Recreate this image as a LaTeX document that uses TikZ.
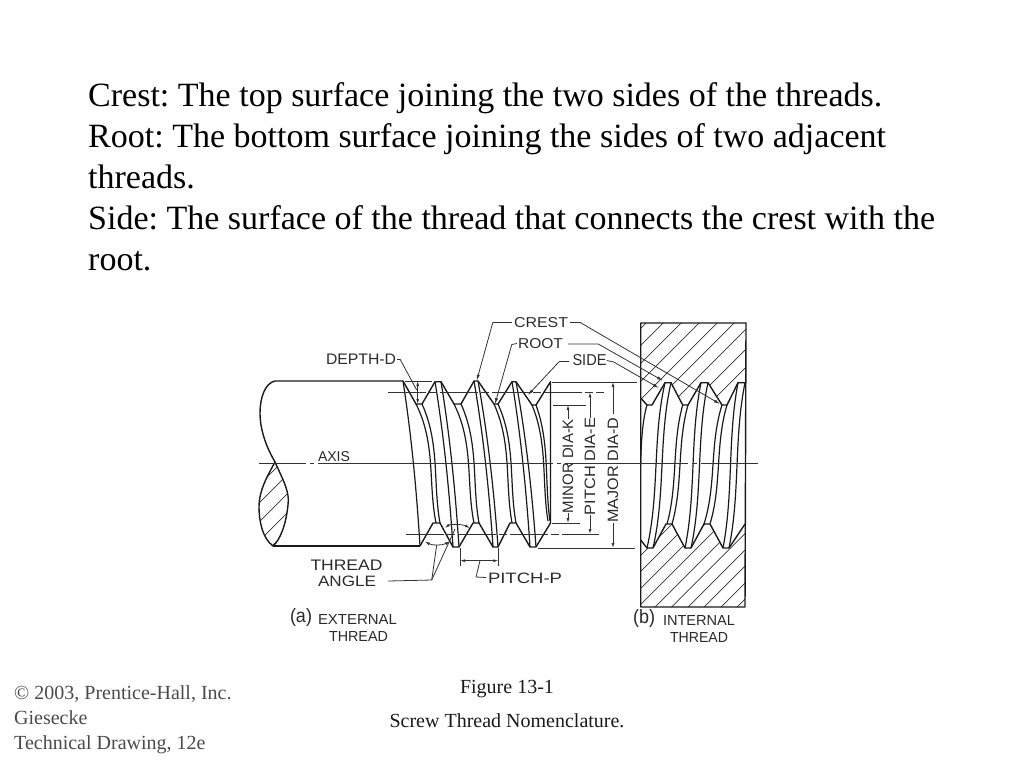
\documentclass[tikz,border=0pt]{standalone}
\usepackage{fontspec}
\usepackage{graphicx}
\setmainfont{Liberation Serif}
\newfontfamily\lblfont{Liberation Sans}
\usetikzlibrary{arrows.meta,calc}
\definecolor{ink}{HTML}{1A1A1A}
\definecolor{inkthin}{HTML}{333333}
\definecolor{lettering}{HTML}{2A2A2A}
\definecolor{greytext}{HTML}{4A4A4A}
\newcommand\lbl[3]{\resizebox{#1pt}{#2pt}{\lblfont #3}}
\newcommand\thrg[6]{\draw[thrline] (#1,#2) .. controls ({#1+#5*(#3-#1)},{#2+(#4-#2)/3}) and ({#1+#6*(#3-#1)},{#4-(#4-#2)/3}) .. (#3,#4);}
\newcommand\crestl[4]{\thrg{#1}{#2}{#3}{#4}{0.5}{0.8}}
\newcommand\rootl[4]{\thrg{#1}{#2}{#3}{#4}{1.0}{0.6}}
\newcommand\intl[4]{\thrg{#1}{#2}{#3}{#4}{0.7}{0.3}}
\frenchspacing
\tikzset{
  x=1pt,y=-1pt,
  bodytext/.style={anchor=base west,inner sep=0pt,font=\fontsize{34}{41}\selectfont,text=black},
  smalltext/.style={anchor=base west,inner sep=0pt,font=\fontsize{20}{24}\selectfont,text=greytext},
  figcap/.style={anchor=base,inner sep=0pt,font=\fontsize{20}{24}\selectfont,text=ink},
  lab/.style={inner sep=0pt,text=lettering},
  outlined/.style={draw=ink,line width=1.4pt,line join=round},
  thrline/.style={draw=ink,line width=1.2pt},
  fineline/.style={draw=inkthin,line width=0.9pt},
  hatchline/.style={draw=inkthin,line width=0.7pt},
  leadline/.style={draw=inkthin,line width=0.8pt,-{Latex[length=6pt,width=3.2pt]}},
  plainline/.style={draw=inkthin,line width=0.8pt},
  twoheads/.style={draw=inkthin,line width=0.8pt,{Latex[length=5pt,width=3pt]}-{Latex[length=5pt,width=3pt]}},
  onehead/.style={draw=inkthin,line width=0.8pt,-{Latex[length=5pt,width=3pt]}}
}
\begin{document}
\begin{tikzpicture}
\useasboundingbox (0,0) rectangle (1024,768);
% body text
\node[bodytext] (l1) at (88,106) {Crest: The top surface joining the two sides of the threads.};
\node[bodytext] (l2) at (88,147) {Root: The bottom surface joining the sides of two adjacent};
\node[bodytext] (l3) at (88,188) {threads.};
\node[bodytext] (l4) at (88,229) {Side: The surface of the thread that connects the crest with the};
\node[bodytext] (l5) at (88,270) {root.};
\node[smalltext] (c1) at (14,699) {© 2003, Prentice-Hall, Inc.};
\node[smalltext] (c2) at (14,724) {Giesecke};
\node[smalltext] (c3) at (14,749) {Technical Drawing, 12e};
\node[figcap] (f1) at (507,693) {Figure 13-1};
\node[figcap] (f2) at (507,727) {Screw Thread Nomenclature.};
% hatching internal
\begin{scope}
\clip (640.7,323) -- (746,323) -- (746,382.7) -- (738,382.7) -- (727,405) -- (722,405) -- (708,382.7) -- (701,382.7) -- (688,405) -- (682.7,405) -- (671,382.7) -- (665,382.7) -- (652,405) -- (647,405) -- (640.7,398) -- cycle;
\foreach \s in {969,986,1004,1022,1040,1057,1075,1095,1113}
  \draw[hatchline] (\s-320,320) -- (\s-410,410);
\end{scope}
\begin{scope}
\clip (640.7,540) -- (647,548) -- (653,548) -- (666,524) -- (672,524) -- (685,548) -- (691,548) -- (704,524) -- (710,524) -- (723,548) -- (729,548) -- (745,524) -- (745,607) -- (640.7,607) -- cycle;
\foreach \s in {1163,1180,1196,1212,1229,1245,1262,1278.7,1295,1311,1328,1344}
  \draw[hatchline] (\s-510,510) -- (\s-620,620);
\end{scope}
% hatching lens
\begin{scope}
\clip (275,462) .. controls (283,480) and (290,492) .. (288,505) .. controls (286,525) and (280,540) .. (273,546) .. controls (262,538) and (259,520) .. (259,507) .. controls (259,490) and (268,475) .. (275,462) -- cycle;
\foreach \s in {744,762,781,800,818}
  \draw[hatchline] (\s-450,450) -- (\s-560,560);
\end{scope}
% shaft outline
\draw[outlined] (403,381) -- (275,381) .. controls (265,383) and (260,398) .. (260,413) .. controls (260,432) and (268,450) .. (275,462) .. controls (283,480) and (290,492) .. (288,505) .. controls (286,525) and (280,540) .. (273,546) .. controls (262,538) and (259,520) .. (259,507) .. controls (259,490) and (268,475) .. (275,462);
\draw[outlined] (273,546) -- (420,546);
% external profile
\draw[outlined] (403,381) -- (416,404) -- (422,404) -- (435,381.7) -- (441,381.7) -- (454,404) -- (461,404) -- (474,381) -- (478,381) -- (494,404) -- (498,404) -- (512,381.7) -- (516,381.7) -- (532,405) -- (536,405) -- (550.5,381.7) -- (550.5,523) -- (536,547) -- (530,547) -- (516,523) -- (510,523) -- (498,547) -- (493,547) -- (479,523) -- (473,523) -- (459,547) -- (453,547) -- (440,523) -- (433,523) -- (420,546);
% external thread lines
\crestl{403}{381}{420}{546}
\rootl{416}{404}{436}{523}
\rootl{422}{404}{440}{523}
\crestl{435}{381.7}{453}{547}
\crestl{441}{381.7}{459}{547}
\rootl{454}{404}{474}{523}
\rootl{461}{404}{479}{523}
\crestl{474}{381}{493}{547}
\crestl{478}{381}{498}{547}
\rootl{494}{404}{512}{523}
\rootl{498}{404}{516}{523}
\crestl{512}{381.7}{530}{547}
\crestl{516}{381.7}{536}{547}
\rootl{532}{405}{548}{521}
\rootl{536}{405}{550}{521}
% internal box and profile
\draw[outlined] (640.7,323) -- (746,323) -- (745,607) -- (640.7,607) -- cycle;
\draw[outlined] (640.7,398) -- (647,405) -- (652,405) -- (665,382.7) -- (671,382.7) -- (682.7,405) -- (688,405) -- (701,382.7) -- (708,382.7) -- (722,405) -- (727,405) -- (738,382.7) -- (746,382.7);
\draw[outlined] (640.7,540) -- (647,548) -- (653,548) -- (666,524) -- (672,524) -- (685,548) -- (691,548) -- (704,524) -- (710,524) -- (723,548) -- (729,548) -- (745,524);
% internal thread lines
\draw[thrline] (647,405) .. controls (643,418) and (641,440) .. (640.7,465);
\intl{665}{382.7}{647}{548}
\intl{671}{382.7}{653}{548}
\intl{682.7}{405}{667}{524}
\intl{688}{405}{672}{524}
\intl{701}{382.7}{685}{548}
\intl{708}{382.7}{691}{548}
\intl{722}{405}{704}{524}
\intl{727}{405}{710}{524}
\intl{738}{382.7}{723}{548}
\intl{745}{382.7}{729}{548}
% axis
\draw[fineline] (259,463.3) -- (306,463.3) (310,463.3) -- (314,463.3) (318,463.3) -- (553,463.3) (557,463.3) -- (561,463.3) (565,463.3) -- (688,463.3) (692,463.3) -- (697,463.3) (701,463.3) -- (758,463.3);
% extension lines
\draw[fineline] (405,381) -- (432,381);
\draw[fineline,dash pattern=on 38pt off 3pt on 8pt off 3pt] (388,392.3) -- (604,392.3);
\draw[fineline,dash pattern=on 38pt off 3pt on 8pt off 3pt] (406,534) -- (599,534);
\draw[fineline] (553,405) -- (586,405);
\draw[fineline] (552,523) -- (580,523);
\draw[fineline] (552,382) -- (637,382);
\draw[fineline] (538,548) -- (635,548);
% labels
\node[lab] (crest) at (541,322.5) {\lbl{54}{10}{CREST}};
\node[lab] (root) at (540.5,344) {\lbl{45}{10}{ROOT}};
\node[lab] (side) at (589.5,360.5) {\lbl{34}{11}{SIDE}};
\node[lab] (depth) at (361,359.5) {\lbl{70}{10.5}{DEPTH-D}};
\node[lab] (axis) at (334,457) {\lbl{32}{10}{AXIS}};
\node[lab] (thread1) at (346.5,565.5) {\lbl{72}{10.5}{THREAD}};
\node[lab] (angle) at (347,581) {\lbl{58}{10.5}{ANGLE}};
\node[lab] (pitch) at (525,578) {\lbl{74}{10.5}{PITCH-P}};
\node[lab] (pa) at (301,617.5) {\lbl{22}{14}{(a)}};
\node[lab] (ext) at (357.5,619) {\lbl{79}{10}{EXTERNAL}};
\node[lab] (thread2) at (358.5,636.5) {\lbl{59}{10}{THREAD}};
\node[lab] (pb) at (644,618.5) {\lbl{22}{14}{(b)}};
\node[lab] (int) at (699,620) {\lbl{72}{10}{INTERNAL}};
\node[lab] (thread3) at (699,637.5) {\lbl{58}{10}{THREAD}};
\node[lab,rotate=90] (minor) at (568,466) {\lbl{94}{10.5}{MINOR DIA-K}};
\node[lab,rotate=90] (pdia) at (590,466.5) {\lbl{97}{10.5}{PITCH DIA-E}};
\node[lab,rotate=90] (major) at (613,470) {\lbl{105}{10.5}{MAJOR DIA-D}};
% target points
\coordinate (tCrest1) at (476.7,380.7);
\coordinate (tCrest2) at (720,404);
\coordinate (tRoot1) at (495,404);
\coordinate (tRoot2) at (663,380.7);
\coordinate (tSide1) at (528,395);
\coordinate (tSide2) at (659,388);
\coordinate (tAngle1) at (436.7,545);
\coordinate (tAngle2) at (455,529);
\coordinate (kneeAngle) at (431.7,580);
% leaders
\draw[leadline] (crest.west) ++(-2,0) -- ++(-19,0) -- (tCrest1);
\draw[leadline] (crest.east) ++(2,0) -- ++(10,0) -- (tCrest2);
\draw[leadline] (root.west) ++(-1,-0.5) -- ++(-5,1) -- (tRoot1);
\draw[leadline] (root.east) ++(5,0) -- ++(30,0) -- (tRoot2);
\draw[leadline] (side.west) ++(-3,1) -- ++(-10,0) -- (tSide1);
\draw[leadline] (side.east) -- ++(7,1.5) -- (tSide2);
\draw[plainline] (depth.east) ++(1,0) -- ++(3,0) -- (416.7,390);
\draw[twoheads] (417.7,381) -- (417.7,404);
\draw[plainline] (angle.east) ++(12,0) -- (kneeAngle) -- (tAngle1);
\draw[plainline] (kneeAngle) -- (tAngle2);
% thread angle arcs
\draw[twoheads] (425,541.5) .. controls (432,545.5) and (442,545.5) .. (450,541.5);
\draw[twoheads] (445,528) .. controls (450,524) and (462,524) .. (470,528);
% pitch dimension
\coordinate (pL) at (460,560.7);
\coordinate (pR) at (498.3,560.7);
\draw[plainline] (pL) ++(0,-12.7) -- ++(0,18);
\draw[plainline] (pR) ++(0,-12.7) -- ++(0,18);
\draw[twoheads] (pL) -- (pR);
\draw[plainline] (480,560.7) -- (476,577) -- (486,577.5);
% diameter dimensions
\draw[onehead] (minor.east) -- (568,405);
\draw[onehead] (minor.west) -- (568,523);
\draw[onehead] (pdia.east) -- (590,392.3);
\draw[onehead] (pdia.west) -- (590,534);
\draw[onehead] (major.east) ++(0,-3) -- (613,382);
\draw[onehead] (major.west) -- (613,548);
\end{tikzpicture}
\end{document}
